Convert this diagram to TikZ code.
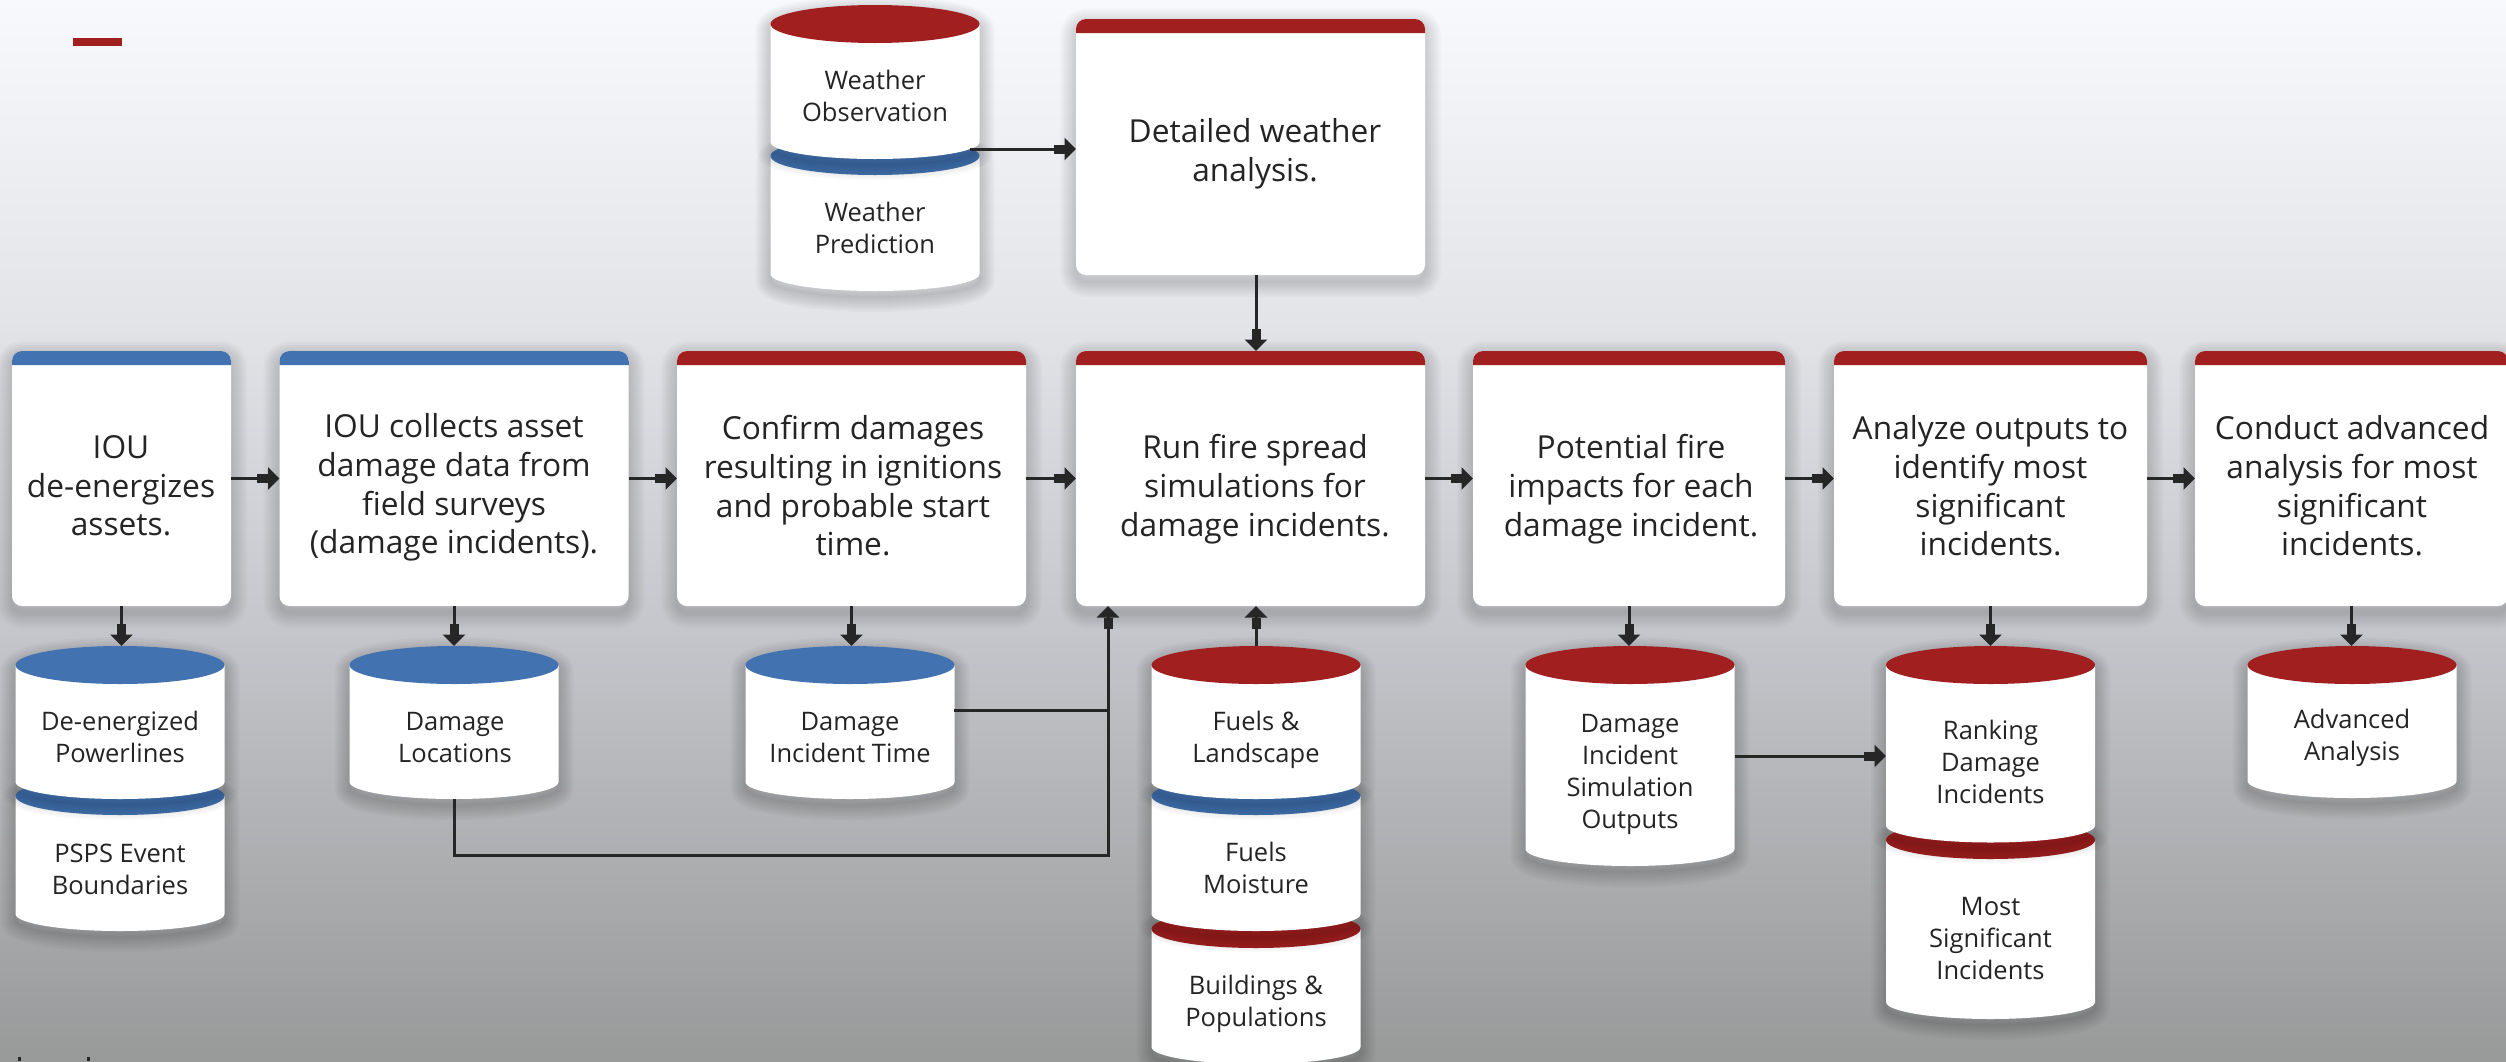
\documentclass[tikz,border=0pt]{standalone}
\usepackage{fontspec}
\setmainfont{Open Sans}
\usetikzlibrary{arrows.meta,calc}
\definecolor{rd}{RGB}{161,31,31}
\definecolor{bl}{RGB}{66,114,176}
\definecolor{ink}{RGB}{36,36,36}
\definecolor{lnk}{RGB}{38,38,38}
\definecolor{bg1}{RGB}{247,249,253}
\definecolor{bg2}{RGB}{226,228,232}
\definecolor{bg3}{RGB}{197,199,204}
\definecolor{bg4}{RGB}{152,153,153}
\pgfdeclareverticalshading{bgshade}{100bp}{
 color(0bp)=(bg4); color(25bp)=(bg4); color(45.8bp)=(bg3); color(60bp)=(bg2); color(75bp)=(bg1); color(100bp)=(bg1)}
\tikzset{
 x=1pt,y=-1pt,
 proc/.style={draw=none,fill=white,rounded corners=10pt,inner sep=0pt,outer sep=0pt},
 cylframe/.style={inner sep=0pt,outer sep=0pt},
 boxtext/.style={align=center,text=ink,inner sep=0pt,font=\fontsize{31.7}{38.7}\selectfont},
 cyltext/.style={align=center,text=ink,inner sep=0pt,font=\fontsize{25.5}{32}\selectfont},
 link/.style={draw=lnk,line width=3pt},
 flow/.style={link,-{Rectangle[length=11pt,width=9pt]Triangle[length=11.5pt,width=22pt]}},
}
\newcommand{\procbox}[9]{% name x1 y1 x2 y2 colour textx texty text
 \pgfmathsetmacro{\bw}{#4-#2}\pgfmathsetmacro{\bh}{#5-#3}
 \pgfmathsetmacro{\bcx}{(#2+#4)/2}\pgfmathsetmacro{\bcy}{(#3+#5)/2}
 \foreach \w in {32,28,24,20,16,12,8,4}{
  \draw[black,opacity=.02,line width=\w pt,line join=round,rounded corners=10pt,yshift=-6pt] (#2,#3) rectangle (#4,#5);}
 \node[proc,minimum width=\bw pt,minimum height=\bh pt] (#1) at (\bcx,\bcy) {};
 \fill[#6,rounded corners=10pt] (#2,#3+14) -- (#2,#3) -- (#4,#3) -- (#4,#3+14);
 \fill[#6] (#2,#3+10) rectangle (#4,#3+14);
 \node[boxtext] (#1-t) at (#7,#8) {#9};
}
\newcommand{\cylinder}[5]{% name cx ytop ybot colour
 \pgfmathsetmacro{\cl}{#2-104.5}\pgfmathsetmacro{\cR}{#2+104.5}
 \pgfmathsetmacro{\cml}{#2-57.7}\pgfmathsetmacro{\cmr}{#2+57.7}
 \pgfmathsetmacro{\ct}{#3+19}\pgfmathsetmacro{\cb}{#4-17}\pgfmathsetmacro{\ccb}{#4-7.6}
 \pgfmathsetmacro{\ctu}{#3+8.5}\pgfmathsetmacro{\ctd}{#3+29.5}\pgfmathsetmacro{\ctb}{#3+38}
 \pgfmathsetmacro{\cnh}{#4-#3}\pgfmathsetmacro{\cny}{(#3+#4)/2}
 \foreach \w in {30,26,22,18,14,10,6,2}{
  \draw[black,opacity=.024,line width=\w pt,line join=round,yshift=-6pt]
   (\cl,\ct) .. controls (\cl,\ctu) and (\cml,#3) .. (#2,#3)
   .. controls (\cmr,#3) and (\cR,\ctu) .. (\cR,\ct) -- (\cR,\cb)
   .. controls (\cR,\ccb) and (\cmr,#4) .. (#2,#4)
   .. controls (\cml,#4) and (\cl,\ccb) .. (\cl,\cb) -- cycle;}
 \node[cylframe,minimum width=209pt,minimum height=\cnh pt] (#1) at (#2,\cny) {};
 \fill[white] (\cl,\ct) -- (\cl,\cb)
   .. controls (\cl,\ccb) and (\cml,#4) .. (#2,#4)
   .. controls (\cmr,#4) and (\cR,\ccb) .. (\cR,\cb) -- (\cR,\ct) -- cycle;
 \fill[#5] (\cl,\ct) .. controls (\cl,\ctu) and (\cml,#3) .. (#2,#3)
   .. controls (\cmr,#3) and (\cR,\ctu) .. (\cR,\ct)
   .. controls (\cR,\ctd) and (\cmr,\ctb) .. (#2,\ctb)
   .. controls (\cml,\ctb) and (\cl,\ctd) .. (\cl,\ct) -- cycle;
}
\begin{document}
\begin{tikzpicture}
\useasboundingbox (0,0) rectangle (2506,1061);
\clip (0,0) rectangle (2506,1061);
\shade[shading=bgshade] (0,0) rectangle (2506,1061);
\fill[rd] (73,38) rectangle (122,46);
\fill[lnk] (18,1057) rectangle (21,1061);
\fill[lnk] (87,1057) rectangle (90,1061);

% weather
\coordinate (obsout) at (970,149);
\cylinder{wpred}{875}{137}{291}{bl}
\cylinder{wobs}{875}{5}{159}{rd}
\node[cyltext] (wpred-t) at (875,228) {Weather\\Prediction};
\node[cyltext] (wobs-t) at (875,96) {Weather\\Observation};

% process boxes
\procbox{bw}{1076}{19}{1425}{275}{rd}{1255}{153.5}{Detailed weather\\analysis.}
\procbox{b1}{12}{351}{231}{606}{bl}{121}{486}{IOU\\de-energizes\\assets.}
\procbox{b2}{279.5}{351}{628.5}{606}{bl}{454}{487.5}{IOU collects asset\\damage data from\\field surveys\\(damage incidents).}
\procbox{b3}{677}{351}{1026}{606}{rd}{853}{486}{Confirm damages\\resulting in ignitions\\and probable start\\time.}
\procbox{b4}{1076}{351}{1425}{606}{rd}{1255}{489}{Run fire spread\\simulations for\\damage incidents.}
\procbox{b5}{1473}{351}{1785}{606}{rd}{1631}{489}{Potential fire\\impacts for each\\damage incident.}
\procbox{b6}{1834}{351}{2147}{606}{rd}{1990.5}{486}{Analyze outputs to\\identify most\\significant\\incidents.}
\procbox{b7}{2195}{351}{2508}{606}{rd}{2352}{486}{Conduct advanced\\analysis for most\\significant\\incidents.}

% data stores
\cylinder{psps}{120}{777}{931}{bl}
\cylinder{deen}{120}{646}{799}{bl}
\node[cyltext] (deen-t) at (120,737) {De-energized\\Powerlines};
\node[cyltext] (psps-t) at (120,869.5) {PSPS Event\\Boundaries};
\cylinder{dloc}{454}{646}{799}{bl}
\node[cyltext] (dloc-t) at (455,738) {Damage\\Locations};
\cylinder{dtime}{850}{646}{799}{bl}
\node[cyltext] (dtime-t) at (850,738) {Damage\\Incident Time};
\cylinder{fbld}{1256}{910}{1064}{rd}
\cylinder{fmoi}{1256}{777}{931}{bl}
\cylinder{ffl}{1256}{646}{799}{rd}
\node[cyltext] (ffl-t) at (1256,740) {Fuels \&\\Landscape};
\node[cyltext] (fmoi-t) at (1256,868) {Fuels\\Moisture};
\node[cyltext] (fbld-t) at (1256,1004) {Buildings \&\\Populations};
\cylinder{sim}{1630}{646}{866}{rd}
\node[cyltext] (sim-t) at (1630,774) {Damage\\Incident\\Simulation\\Outputs};
\cylinder{most}{1990.5}{821}{1019}{rd}
\cylinder{rank}{1990.5}{646}{842.5}{rd}
\node[cyltext] (rank-t) at (1990.5,762) {Ranking\\Damage\\Incidents};
\node[cyltext] (most-t) at (1990.5,939) {Most\\Significant\\Incidents};
\cylinder{adv}{2352}{646}{798}{rd}
\node[cyltext] (adv-t) at (2352,738) {Advanced\\Analysis};

% connectors
\coordinate (timeout) at (954,710);
\coordinate (jtop) at (1108,710);
\coordinate (jbot) at (1108,855);
\draw[flow] (obsout) -- (obsout -| bw.west);
\draw[flow] (ffl.north |- bw.south) -- (ffl.north |- b4.north);
\draw[flow] (b1.east) -- (b2.west);
\draw[flow] (b2.east) -- (b3.west);
\draw[flow] (b3.east) -- (b4.west);
\draw[flow] (b4.east) -- (b5.west);
\draw[flow] (b5.east) -- (b6.west);
\draw[flow] (b6.east) -- (b7.west);
\draw[flow] (b1.south) -- (b1.south |- deen.north);
\draw[flow] (b2.south) -- (b2.south |- dloc.north);
\draw[flow] (b3.south) -- (b3.south |- dtime.north);
\draw[flow] (ffl.north) -- (ffl.north |- b4.south);
\draw[flow] (b5.south) -- (b5.south |- sim.north);
\draw[flow] (b6.south) -- (b6.south |- rank.north);
\draw[flow] (b7.south) -- (b7.south |- adv.north);
\draw[flow] (sim.east) -- (sim.east -| rank.west);
\draw[link] (timeout) -- (jtop);
\draw[flow] (dloc.south) -- (dloc.south |- jbot) -- (jbot) -- (jbot |- b4.south);
\end{tikzpicture}
\end{document}
